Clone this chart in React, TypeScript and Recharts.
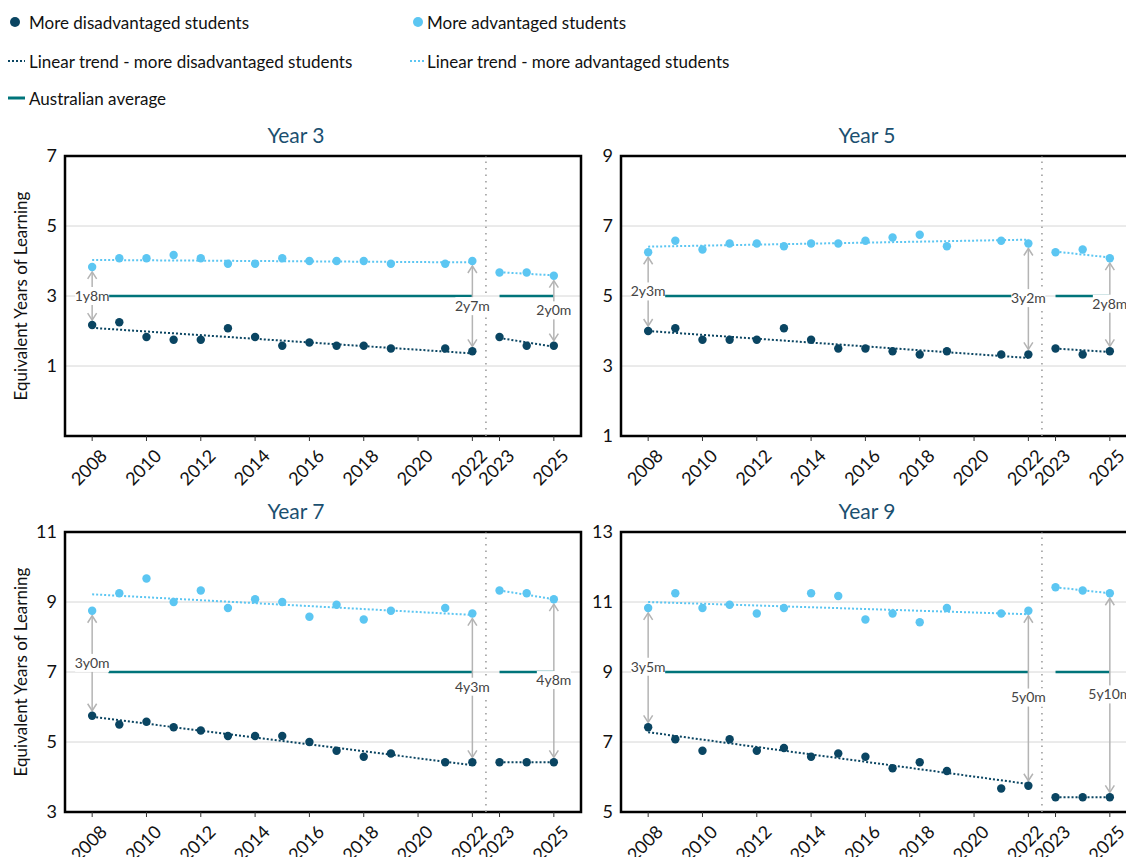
import { ComposedChart, Line, XAxis, YAxis, CartesianGrid, ReferenceLine, ReferenceArea, ReferenceDot } from 'recharts';

const FONT = 'Lato, "Noto Sans", sans-serif';
const DARK = '#0a4562';
const LIGHT = '#5cc6f2';
const TEAL = '#00747a';
const GREY = '#b4b4b4';
const TITLE = '#1b5070';

// survey years (no 2020 data)
const YEARS = [2008, 2009, 2010, 2011, 2012, 2013, 2014, 2015, 2016, 2017, 2018, 2019, 2021, 2022, 2023, 2024, 2025];
const X_TICKS = [2008, 2010, 2012, 2014, 2016, 2018, 2020, 2022, 2023, 2025];
const GAP_YEARS = [2008, 2022, 2025];

const y3Adv = [3.83, 4.08, 4.08, 4.17, 4.08, 3.92, 3.92, 4.08, 4.0, 4.0, 4.0, 3.92, 3.92, 4.0, 3.67, 3.67, 3.58];
const y3Dis = [2.17, 2.25, 1.83, 1.75, 1.75, 2.08, 1.83, 1.58, 1.67, 1.58, 1.58, 1.5, 1.5, 1.42, 1.83, 1.58, 1.58];
const y5Adv = [6.25, 6.58, 6.33, 6.5, 6.5, 6.42, 6.5, 6.5, 6.58, 6.67, 6.75, 6.42, 6.58, 6.5, 6.25, 6.33, 6.08];
const y5Dis = [4.0, 4.08, 3.75, 3.75, 3.75, 4.08, 3.75, 3.5, 3.5, 3.42, 3.33, 3.42, 3.33, 3.33, 3.5, 3.33, 3.42];
const y7Adv = [8.75, 9.25, 9.67, 9.0, 9.33, 8.83, 9.08, 9.0, 8.58, 8.92, 8.5, 8.75, 8.83, 8.67, 9.33, 9.25, 9.08];
const y7Dis = [5.75, 5.5, 5.58, 5.42, 5.33, 5.17, 5.17, 5.17, 5.0, 4.75, 4.58, 4.67, 4.42, 4.42, 4.42, 4.42, 4.42];
const y9Adv = [10.83, 11.25, 10.83, 10.92, 10.67, 10.83, 11.25, 11.17, 10.5, 10.67, 10.42, 10.83, 10.67, 10.75, 11.42, 11.33, 11.25];
const y9Dis = [7.42, 7.08, 6.75, 7.08, 6.75, 6.83, 6.58, 6.67, 6.58, 6.25, 6.42, 6.17, 5.67, 5.75, 5.42, 5.42, 5.42];

// trend segments: 2008-2022 and 2023-2025 (start, end values)
const TREND_A = [2008, 2022];
const TREND_B = [2023, 2025];
const y3AdvTrend = [[4.03, 3.96], [3.68, 3.59]];
const y3DisTrend = [[2.09, 1.36], [1.8, 1.55]];
const y5AdvTrend = [[6.41, 6.61], [6.27, 6.1]];
const y5DisTrend = [[4.0, 3.23], [3.5, 3.4]];
const y7AdvTrend = [[9.22, 8.63], [9.33, 9.08]];
const y7DisTrend = [[5.72, 4.34], [4.42, 4.42]];
const y9AdvTrend = [[11.0, 10.65], [11.42, 11.25]];
const y9DisTrend = [[7.28, 5.8], [5.42, 5.42]];

// gap labels at 2008, 2022, 2025 and the height each label sits at
const y3Gaps = ['1y8m', '2y7m', '2y0m'];
const y3GapAt = [3.0, 2.71, 2.59];
const y5Gaps = ['2y3m', '3y2m', '2y8m'];
const y5GapAt = [5.13, 4.94, 4.78];
const y7Gaps = ['3y0m', '4y3m', '4y8m'];
const y7GapAt = [7.26, 6.58, 6.77];
const y9Gaps = ['3y5m', '5y0m', '5y10m'];
const y9GapAt = [9.15, 8.27, 8.36];

const AVG_SEGMENTS = [[2008.6, 2022], [2023, 2025]];

const toPts = (vals: number[]) => YEARS.map((year, i) => ({ year, v: vals[i] }));
const trendPts = (seg: number[][]) => [
  [{ year: TREND_A[0], v: seg[0][0] }, { year: TREND_A[1], v: seg[0][1] }],
  [{ year: TREND_B[0], v: seg[1][0] }, { year: TREND_B[1], v: seg[1][1] }],
];

const PANELS = [
  { title: 'Year 3', avg: 3, domain: [-1, 7], ticks: [1, 3, 5, 7], adv: y3Adv, dis: y3Dis, advT: y3AdvTrend, disT: y3DisTrend, gaps: y3Gaps, gapAt: y3GapAt, left: 0, top: 120, titleX: 296, ylabel: true },
  { title: 'Year 5', avg: 5, domain: [1, 9], ticks: [1, 3, 5, 7, 9], adv: y5Adv, dis: y5Dis, advT: y5AdvTrend, disT: y5DisTrend, gaps: y5Gaps, gapAt: y5GapAt, left: 556, top: 120, titleX: 311, ylabel: false },
  { title: 'Year 7', avg: 7, domain: [3, 11], ticks: [3, 5, 7, 9, 11], adv: y7Adv, dis: y7Dis, advT: y7AdvTrend, disT: y7DisTrend, gaps: y7Gaps, gapAt: y7GapAt, left: 0, top: 496, titleX: 296, ylabel: true },
  { title: 'Year 9', avg: 9, domain: [5, 13], ticks: [5, 7, 9, 11, 13], adv: y9Adv, dis: y9Dis, advT: y9AdvTrend, disT: y9DisTrend, gaps: y9Gaps, gapAt: y9GapAt, left: 556, top: 496, titleX: 311, ylabel: false },
];

const W = 590;
const H = 376;

const XTick = (p: any) => (
  <text transform={`translate(${p.x + 7},${p.y + 5}) rotate(-45)`} textAnchor="end" dy="0.71em" fontSize={18} fill="#111" fontFamily={FONT}>
    {p.payload.value}
  </text>
);

const GapArrow = (p: any) => {
  const x = p.x1;
  const top = Math.min(p.y1, p.y2) + 5;
  const bot = Math.max(p.y1, p.y2) - 5;
  return (
    <g stroke={GREY} strokeWidth={1.5} fill="none">
      <line x1={x} y1={top} x2={x} y2={bot} />
      <polyline points={`${x - 4.5},${top + 7} ${x},${top} ${x + 4.5},${top + 7}`} />
      <polyline points={`${x - 4.5},${bot - 7} ${x},${bot} ${x + 4.5},${bot - 7}`} />
    </g>
  );
};

const gapLabel = (text: string) => (p: any) => {
  const w = text.length * 7.5 + 4;
  return (
    <g>
      <rect x={p.cx - w / 2} y={p.cy - 9} width={w} height={18} fill="#fff" />
      <text x={p.cx} y={p.cy} dy="0.35em" textAnchor="middle" fontSize={14} fill="#444" fontFamily={FONT}>
        {text}
      </text>
    </g>
  );
};

function Panel({ cfg }: { cfg: (typeof PANELS)[number] }) {
  const adv = toPts(cfg.adv);
  const dis = toPts(cfg.dis);
  const advT = trendPts(cfg.advT);
  const disT = trendPts(cfg.disT);
  return (
    <div style={{ position: 'absolute', left: cfg.left, top: cfg.top, width: W, height: H }}>
      <div style={{ position: 'absolute', left: cfg.titleX, top: 14, transform: 'translate(-50%,-50%)', whiteSpace: 'nowrap', color: TITLE, fontSize: 21, fontFamily: FONT }}>
        {cfg.title}
      </div>
      {cfg.ylabel && (
        <div style={{ position: 'absolute', left: 20, top: 176, transform: 'translate(-50%,-50%) rotate(-90deg)', whiteSpace: 'nowrap', fontSize: 17, fontFamily: FONT, color: '#111' }}>
          Equivalent Years of Learning
        </div>
      )}
      <ComposedChart width={W} height={H} margin={{ top: 36, right: 9, left: 25, bottom: 0 }}>
        <CartesianGrid vertical={false} stroke="#d6d6d6" />
        <XAxis dataKey="year" type="number" domain={[2007, 2026]} ticks={X_TICKS} interval={0} height={60} axisLine={false} tickSize={5} tickLine={{ stroke: '#333' }} tick={<XTick />} allowDataOverflow />
        <YAxis type="number" domain={cfg.domain} ticks={cfg.ticks} interval={0} width={40} axisLine={false} tickLine={false} tickSize={0} tickMargin={8} tick={{ fontSize: 18, fill: '#111', fontFamily: FONT }} allowDataOverflow />
        <ReferenceLine x={2022.5} stroke="#999" strokeWidth={1.5} strokeDasharray="1.5 5" />
        {AVG_SEGMENTS.map((s, i) => (
          <ReferenceLine key={'avg' + i} segment={[{ x: s[0], y: cfg.avg }, { x: s[1], y: cfg.avg }]} stroke={TEAL} strokeWidth={2.5} />
        ))}
        {advT.map((d, i) => (
          <Line key={'at' + i} data={d} dataKey="v" stroke={LIGHT} strokeWidth={2} strokeDasharray="2 2" dot={false} activeDot={false} isAnimationActive={false} />
        ))}
        {disT.map((d, i) => (
          <Line key={'dt' + i} data={d} dataKey="v" stroke={DARK} strokeWidth={2} strokeDasharray="2 2" dot={false} activeDot={false} isAnimationActive={false} />
        ))}
        {GAP_YEARS.map((yr) => {
          const i = YEARS.indexOf(yr);
          return <ReferenceLine key={'ga' + yr} segment={[{ x: yr, y: cfg.adv[i] }, { x: yr, y: cfg.dis[i] }]} shape={GapArrow} />;
        })}
        {GAP_YEARS.map((yr, k) => (
          <ReferenceDot key={'gl' + yr} x={yr} y={cfg.gapAt[k]} r={1} shape={gapLabel(cfg.gaps[k])} />
        ))}
        <Line data={adv} dataKey="v" stroke="none" strokeWidth={0} dot={{ r: 4.2, fill: LIGHT, stroke: 'none' }} activeDot={false} isAnimationActive={false} />
        <Line data={dis} dataKey="v" stroke="none" strokeWidth={0} dot={{ r: 4.2, fill: DARK, stroke: 'none' }} activeDot={false} isAnimationActive={false} />
        <ReferenceArea x1={2007} x2={2026} y1={cfg.domain[0]} y2={cfg.domain[1]} fill="none" fillOpacity={0} stroke="#000" strokeWidth={2.5} ifOverflow="visible" />
      </ComposedChart>
    </div>
  );
}

const legendText: React.CSSProperties = { position: 'absolute', fontSize: 17, fontFamily: FONT, color: '#111', whiteSpace: 'nowrap', transform: 'translateY(-50%)' };

function Legend() {
  return (
    <svg width={760} height={115} style={{ position: 'absolute', left: 0, top: 0 }}>
      <circle cx={15} cy={22} r={5} fill={DARK} />
      <circle cx={418} cy={22} r={5} fill={LIGHT} />
      <line x1={8} y1={61} x2={25} y2={61} stroke={DARK} strokeWidth={2} strokeDasharray="2 2" />
      <line x1={410} y1={61} x2={425} y2={61} stroke={LIGHT} strokeWidth={2} strokeDasharray="2 2" />
      <line x1={8} y1={98} x2={25} y2={98} stroke={TEAL} strokeWidth={3} />
    </svg>
  );
}

export default function App() {
  return (
    <div style={{ position: 'fixed', left: 0, top: 0, width: 1126, height: 857, overflow: 'hidden', background: '#fff' }}>
      <Legend />
      <div style={{ ...legendText, left: 29, top: 22 }}>More disadvantaged students</div>
      <div style={{ ...legendText, left: 427, top: 22 }}>More advantaged students</div>
      <div style={{ ...legendText, left: 29, top: 61 }}>Linear trend - more disadvantaged students</div>
      <div style={{ ...legendText, left: 427, top: 61 }}>Linear trend - more advantaged students</div>
      <div style={{ ...legendText, left: 29, top: 98 }}>Australian average</div>
      {PANELS.map((p) => (
        <Panel key={p.title} cfg={p} />
      ))}
    </div>
  );
}
